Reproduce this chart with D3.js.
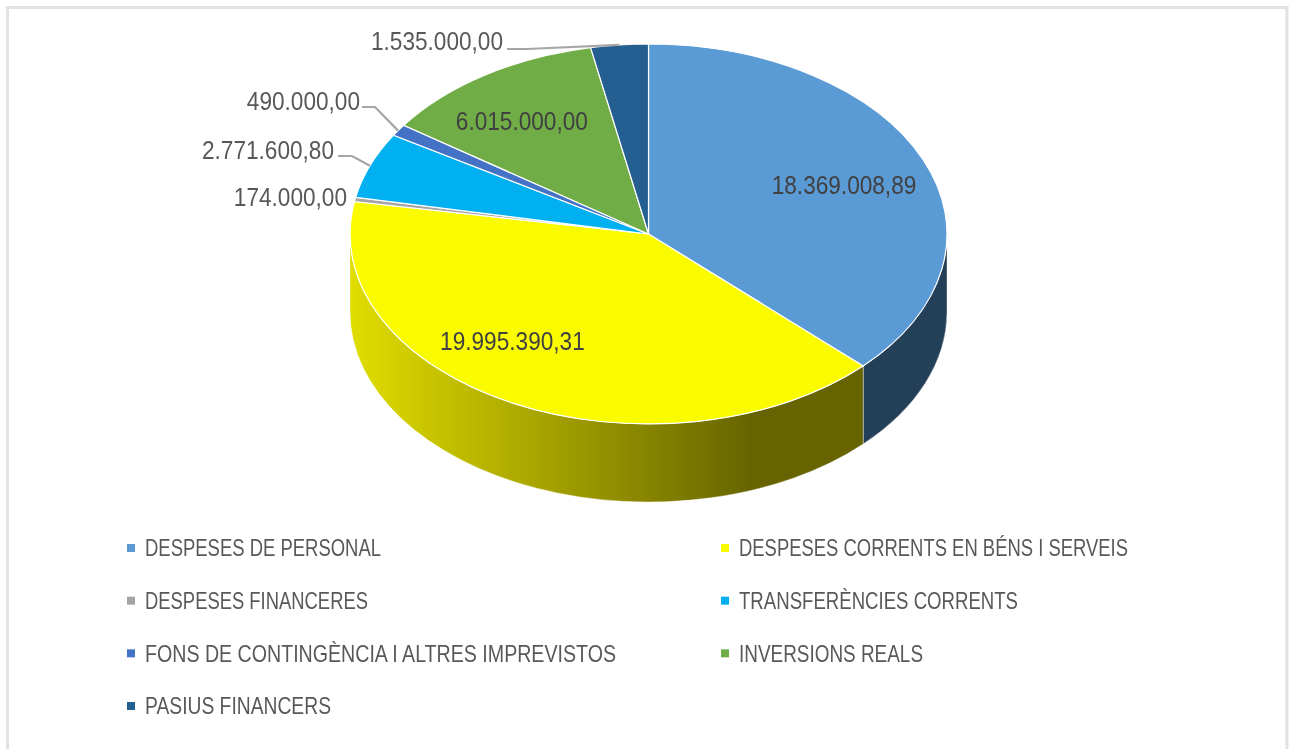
<!DOCTYPE html>
<html>
<head>
  <title>Despeses</title>
  <meta charset="utf-8">
  <style>
    html, body { margin: 0; padding: 0; background: #fff; overflow: hidden; }
    text { font-family: "Liberation Sans", sans-serif; }
  </style>
  <script src="https://d3js.org/d3.v7.min.js"></script>
</head>
<body>
<svg id="chart" width="1289" height="749"></svg>
<script>
  var categories = [
    'DESPESES DE PERSONAL',
    'DESPESES CORRENTS EN BÉNS I SERVEIS',
    'DESPESES FINANCERES',
    'TRANSFERÈNCIES CORRENTS',
    'FONS DE CONTINGÈNCIA I ALTRES IMPREVISTOS',
    'INVERSIONS REALS',
    'PASIUS FINANCERS'
  ];
  var values = [18369008.89, 19995390.31, 174000, 2771600.80, 490000, 6015000, 1535000];
  var valueLabels = ['18.369.008,89', '19.995.390,31', '174.000,00', '2.771.600,80', '490.000,00', '6.015.000,00', '1.535.000,00'];
  var colors = ['#5b9bd5', '#fbfb00', '#a5a5a5', '#00b0f0', '#4472c4', '#70ad47', '#255e91'];

  var cx = 648.5, cy = 234, rx = 298.5, ry = 190, depth = 78;
  var svg = d3.select('#chart');

  var defs = svg.append('defs');
  var grad = defs.append('linearGradient').attr('id', 'side-yellow')
    .attr('gradientUnits', 'userSpaceOnUse')
    .attr('x1', cx - rx).attr('x2', cx + rx).attr('y1', 0).attr('y2', 0);
  grad.append('stop').attr('offset', 0).attr('stop-color', '#e0dd00');
  grad.append('stop').attr('offset', 0.68).attr('stop-color', '#666300');
  grad.append('stop').attr('offset', 1).attr('stop-color', '#666300');

  // the reference is a soft upscaled image, so the text gets a touch of blur
  defs.append('filter').attr('id', 'soft')
    .append('feGaussianBlur').attr('stdDeviation', 0.4);

  // chart frame, runs off the bottom of the page
  svg.append('path')
    .attr('d', 'M7.5,749V7.5H1287V749')
    .attr('fill', 'none').attr('stroke', '#e2e2e2').attr('stroke-width', 3);

  var pie = d3.pie().sort(null).value(function (d) { return d; });
  var arcs = pie(values);
  var arc = d3.arc().innerRadius(0).outerRadius(1);

  function px(a) { return cx + rx * Math.sin(a); }
  function py(a) { return cy - ry * Math.cos(a); }

  // visible part of the wall: lower half of the ellipse only
  function wall(d) {
    var a0 = Math.max(d.startAngle, Math.PI / 2);
    var a1 = Math.min(d.endAngle, 3 * Math.PI / 2);
    if (a0 >= a1) return null;
    var r = 'A' + rx + ',' + ry + ' 0 0 ';
    return 'M' + px(a0) + ',' + py(a0) + r + '1 ' + px(a1) + ',' + py(a1) +
      'L' + px(a1) + ',' + (py(a1) + depth) + r + '0 ' + px(a0) + ',' + (py(a0) + depth) + 'Z';
  }

  var sideFill = { 0: '#243f58', 1: 'url(#side-yellow)' };
  svg.append('g').selectAll('path')
    .data(arcs.filter(function (d) { return wall(d); }))
    .enter().append('path')
    .attr('d', wall)
    .attr('fill', function (d) { return sideFill[d.index]; })
    .attr('stroke', '#fff').attr('stroke-width', 0.6).attr('stroke-opacity', 0.6);

  // top face, unit radius squashed into the ellipse
  svg.append('g')
    .attr('transform', 'translate(' + cx + ',' + cy + ') scale(' + rx + ',' + ry + ')')
    .selectAll('path')
    .data(arcs)
    .enter().append('path')
    .attr('d', arc)
    .attr('fill', function (d, i) { return colors[i]; })
    .attr('stroke', '#fff').attr('stroke-width', 1.2)
    .attr('vector-effect', 'non-scaling-stroke');

  // label placement: inside labels sit on a fraction of the radius, outside ones
  // give the text end and the start of the leader line
  var placement = [
    { r: 0.704, shift: 0.026 },
    { r: 0.725, shift: 0.21 },
    { tx: 347, ty: 197 },
    { tx: 334, ty: 150, lead: [338, 156], run: 14, tip: 0.49 },
    { tx: 360, ty: 101, lead: [362, 107], run: 13, tip: 0.45 },
    { r: 0.73, shift: -0.042 },
    { tx: 503, ty: 41, lead: [507, 49], run: 20, tip: 0.5 }
  ];

  // no narrow face is installed, so the text is squeezed sideways
  var labelSqueeze = 0.87;
  var legendWidths = [236, 389, 223, 279, 471, 184, 186];

  var labels = svg.append('g').attr('font-size', 26).attr('filter', 'url(#soft)');

  arcs.forEach(function (d, i) {
    var pl = placement[i];
    var mid = (d.startAngle + d.endAngle) / 2;
    if (pl.r) {
      labels.append('text')
        .attr('transform', 'translate(' + (cx + rx * pl.r * Math.sin(mid + pl.shift)) + ',' +
          (cy - ry * pl.r * Math.cos(mid + pl.shift)) + ') scale(' + labelSqueeze + ',1)')
        .attr('dy', '0.35em')
        .attr('text-anchor', 'middle')
        .attr('fill', '#404040')
        .text(valueLabels[i]);
    } else {
      if (pl.lead) {
        var tipA = d.startAngle + (d.endAngle - d.startAngle) * pl.tip;
        svg.append('path')
          .attr('d', d3.line()([pl.lead, [pl.lead[0] + pl.run, pl.lead[1]], [px(tipA), py(tipA)]]))
          .attr('fill', 'none').attr('stroke', '#a6a6a6').attr('stroke-width', 2.2);
      }
      labels.append('text')
        .attr('transform', 'translate(' + pl.tx + ',' + pl.ty + ') scale(' + labelSqueeze + ',1)')
        .attr('dy', '0.35em')
        .attr('text-anchor', 'end')
        .attr('fill', '#595959')
        .text(valueLabels[i]);
    }
  });

  // legend, two columns filled row by row
  var legendX = [127, 721], legendY = d3.scaleLinear().domain([0, 3]).range([548, 706]);
  var legend = svg.append('g').selectAll('g')
    .data(categories)
    .enter().append('g')
    .attr('transform', function (d, i) {
      return 'translate(' + legendX[i % 2] + ',' + legendY(Math.floor(i / 2)) + ')';
    });
  legend.append('rect')
    .attr('x', 0).attr('y', -4).attr('width', 8).attr('height', 8)
    .attr('fill', function (d, i) { return colors[i]; });
  legend.append('text')
    .attr('x', 18)
    .attr('dy', '0.35em')
    .attr('font-size', 24).attr('fill', '#595959')
    .attr('filter', 'url(#soft)')
    .attr('textLength', function (d, i) { return legendWidths[i]; })
    .attr('lengthAdjust', 'spacingAndGlyphs')
    .text(function (d) { return d; });
</script>
</body>
</html>
